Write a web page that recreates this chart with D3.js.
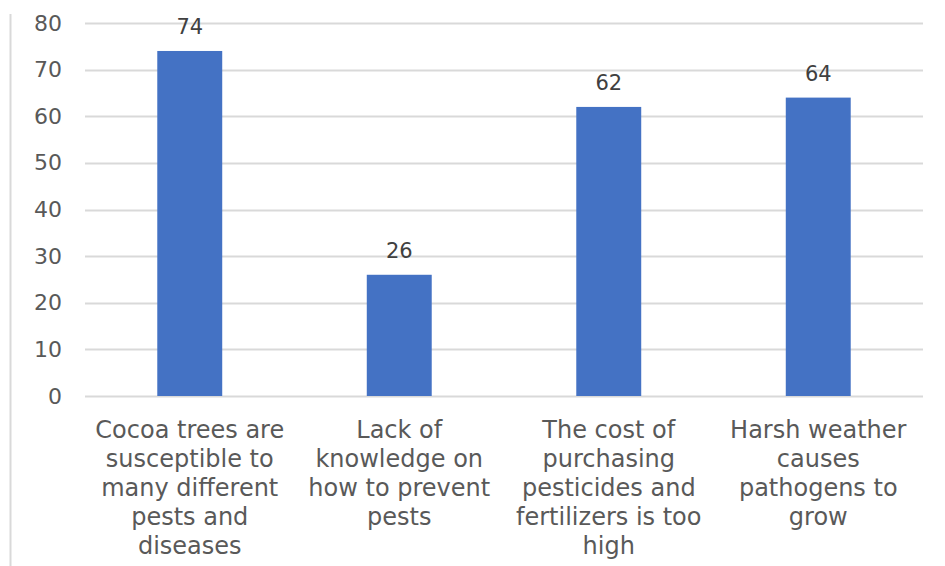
<!DOCTYPE html>
<html>
<head>
<meta charset="utf-8">
<script src="https://cdn.jsdelivr.net/npm/d3@7"></script>
<style>
  body { margin: 0; background: #fff; }
  svg { display: block; font-family: "DejaVu Sans", Verdana, sans-serif; }
</style>
</head>
<body>
<script>
// chart values
const categories = [
    "Cocoa trees are susceptible to many different pests and diseases",
    "Lack of knowledge on how to prevent pests",
    "The cost of purchasing pesticides and fertilizers is too high",
    "Harsh weather causes pathogens to grow"
];
const categoryLines = [
    ["Cocoa trees are", "susceptible to", "many different", "pests and", "diseases"],
    ["Lack of", "knowledge on", "how to prevent", "pests"],
    ["The cost of", "purchasing", "pesticides and", "fertilizers is too", "high"],
    ["Harsh weather", "causes", "pathogens to", "grow"]
];
const values = [74, 26, 62, 64];
const yTicks = [0, 10, 20, 30, 40, 50, 60, 70, 80];

const W = 945, H = 566;
const margin = {top: 23, right: 22, bottom: 170, left: 85};
const width = W - margin.left - margin.right;
const height = H - margin.top - margin.bottom;

const svg = d3.select("body").append("svg")
    .attr("width", W)
    .attr("height", H);

// thin frame line on the left
svg.append("line")
    .attr("x1", 10.5).attr("x2", 10.5)
    .attr("y1", 14).attr("y2", H)
    .attr("stroke", "#d9d9d9")
    .attr("stroke-width", 2);

const g = svg.append("g")
    .attr("transform", "translate(" + margin.left + "," + margin.top + ")");

const xScale = d3.scaleBand()
    .domain(categories)
    .range([0, width])
    .paddingInner(0.69)
    .paddingOuter(0.345);

const yScale = d3.scaleLinear()
    .domain([0, 80])
    .range([height, 0]);

// gridlines
g.append("g")
    .selectAll("line")
    .data(yTicks)
    .enter().append("line")
    .attr("x1", 0)
    .attr("x2", width)
    .attr("y1", d => Math.round(yScale(d)) + 0.5)
    .attr("y2", d => Math.round(yScale(d)) + 0.5)
    .attr("stroke", "#d9d9d9")
    .attr("stroke-width", 2);

// y axis labels
const yAxis = g.append("g")
    .call(d3.axisLeft(yScale).tickValues(yTicks).tickSize(0).tickPadding(23));
yAxis.select(".domain").remove();
yAxis.selectAll("text")
    .style("font-size", "22px")
    .attr("fill", "#595959")
    .attr("font-family", "DejaVu Sans, Verdana, sans-serif");

// bars
g.selectAll(".bar")
    .data(values)
    .enter().append("rect")
    .attr("class", "bar")
    .attr("fill", "#4472c4")
    .attr("x", (d, i) => xScale(categories[i]))
    .attr("width", xScale.bandwidth())
    .attr("y", d => yScale(d))
    .attr("height", d => yScale(0) - yScale(d));

// value labels
g.selectAll(".val")
    .data(values)
    .enter().append("text")
    .attr("class", "val")
    .attr("x", (d, i) => xScale(categories[i]) + xScale.bandwidth() / 2)
    .attr("y", d => yScale(d) - 17)
    .attr("text-anchor", "middle")
    .attr("fill", "#404040")
    .style("font-size", "21px")
    .text(d => d);

// category labels
const catG = g.selectAll(".cat")
    .data(categories)
    .enter().append("text")
    .attr("class", "cat")
    .attr("text-anchor", "middle")
    .attr("fill", "#595959")
    .style("font-size", "24px")
    .attr("transform", d => "translate(" + (xScale(d) + xScale.bandwidth() / 2) + "," + (height + 42) + ")");

catG.selectAll("tspan")
    .data((d, i) => categoryLines[i])
    .enter().append("tspan")
    .attr("x", 0)
    .attr("y", (d, i) => i * 29)
    .text(d => d);
</script>
</body>
</html>
